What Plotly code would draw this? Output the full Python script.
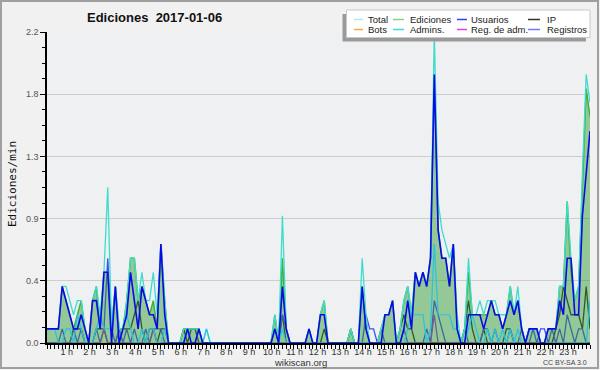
import plotly.graph_objects as go

# ---------------- data (edits per minute, 10-minute bins, 2017-01-06) ----------------
BIN_HOURS = [i / 6 for i in range(144)]  # start of each 10-minute bin, in hours

total = [
    0.1, 0.1, 0.1, 0.1, 0.4, 0.4, 0.3, 0.2, 0.3, 0.3, 0.1, 0.0,
    0.3, 0.4, 0.2, 0.5, 1.1, 0.1, 0.4, 0.1, 0.1, 0.3, 0.6, 0.6,
    0.3, 0.5, 0.3, 0.3, 0.5, 0.2, 0.7, 0.3, 0.0, 0.0, 0.0, 0.0,
    0.1, 0.1, 0.1, 0.1, 0.1, 0.0, 0.1, 0.0, 0.0, 0.0, 0.0, 0.0,
    0.0, 0.0, 0.0, 0.0, 0.0, 0.0, 0.0, 0.0, 0.0, 0.0, 0.0, 0.0,
    0.2, 0.0, 0.9, 0.1, 0.0, 0.0, 0.0, 0.0, 0.0, 0.1, 0.0, 0.0,
    0.2, 0.3, 0.0, 0.0, 0.0, 0.0, 0.0, 0.0, 0.1, 0.0, 0.0, 0.6,
    0.2, 0.0, 0.0, 0.0, 0.1, 0.2, 0.2, 0.3, 0.0, 0.1, 0.3, 0.4,
    0.2, 0.5, 0.4, 0.5, 0.4, 0.6, 2.2, 1.0, 0.8, 0.7, 0.6, 0.7,
    0.2, 0.0, 0.1, 0.6, 0.2, 0.2, 0.3, 0.2, 0.3, 0.3, 0.3, 0.2,
    0.2, 0.2, 0.4, 0.2, 0.4, 0.1, 0.0, 0.1, 0.1, 0.1, 0.0, 0.0,
    0.1, 0.1, 0.1, 0.4, 0.4, 1.0, 0.6, 0.3, 0.4, 1.2, 1.9, 1.7,
]
ediciones = [
    0.1, 0.1, 0.1, 0.1, 0.4, 0.3, 0.2, 0.1, 0.2, 0.3, 0.1, 0.0,
    0.3, 0.4, 0.1, 0.5, 0.5, 0.1, 0.4, 0.1, 0.1, 0.3, 0.6, 0.6,
    0.3, 0.4, 0.3, 0.2, 0.3, 0.1, 0.7, 0.3, 0.0, 0.0, 0.0, 0.0,
    0.1, 0.1, 0.1, 0.1, 0.1, 0.0, 0.0, 0.0, 0.0, 0.0, 0.0, 0.0,
    0.0, 0.0, 0.0, 0.0, 0.0, 0.0, 0.0, 0.0, 0.0, 0.0, 0.0, 0.0,
    0.2, 0.0, 0.6, 0.1, 0.0, 0.0, 0.0, 0.0, 0.0, 0.1, 0.0, 0.0,
    0.2, 0.3, 0.0, 0.0, 0.0, 0.0, 0.0, 0.0, 0.1, 0.0, 0.0, 0.4,
    0.1, 0.0, 0.0, 0.0, 0.1, 0.2, 0.2, 0.3, 0.0, 0.1, 0.3, 0.4,
    0.2, 0.5, 0.4, 0.5, 0.4, 0.6, 1.9, 0.8, 0.6, 0.6, 0.4, 0.7,
    0.1, 0.0, 0.1, 0.5, 0.2, 0.2, 0.2, 0.2, 0.2, 0.3, 0.2, 0.2,
    0.1, 0.2, 0.4, 0.2, 0.3, 0.1, 0.0, 0.1, 0.1, 0.1, 0.0, 0.0,
    0.1, 0.1, 0.1, 0.4, 0.4, 1.0, 0.5, 0.3, 0.4, 1.1, 1.8, 1.6,
]
usuarios = [
    0.1, 0.1, 0.1, 0.1, 0.4, 0.3, 0.2, 0.1, 0.1, 0.2, 0.1, 0.0,
    0.3, 0.3, 0.1, 0.5, 0.5, 0.0, 0.4, 0.0, 0.1, 0.2, 0.5, 0.3,
    0.1, 0.4, 0.3, 0.2, 0.2, 0.1, 0.7, 0.2, 0.0, 0.0, 0.0, 0.0,
    0.0, 0.1, 0.0, 0.0, 0.1, 0.0, 0.0, 0.0, 0.0, 0.0, 0.0, 0.0,
    0.0, 0.0, 0.0, 0.0, 0.0, 0.0, 0.0, 0.0, 0.0, 0.0, 0.0, 0.0,
    0.1, 0.0, 0.4, 0.1, 0.0, 0.0, 0.0, 0.0, 0.0, 0.1, 0.0, 0.0,
    0.2, 0.2, 0.0, 0.0, 0.0, 0.0, 0.0, 0.0, 0.0, 0.0, 0.0, 0.4,
    0.1, 0.0, 0.0, 0.0, 0.0, 0.2, 0.2, 0.3, 0.0, 0.0, 0.1, 0.3,
    0.1, 0.5, 0.4, 0.5, 0.4, 0.6, 1.9, 0.8, 0.6, 0.6, 0.4, 0.7,
    0.1, 0.0, 0.0, 0.2, 0.2, 0.2, 0.2, 0.1, 0.2, 0.3, 0.2, 0.2,
    0.1, 0.2, 0.3, 0.2, 0.3, 0.1, 0.0, 0.1, 0.1, 0.1, 0.0, 0.0,
    0.1, 0.1, 0.1, 0.3, 0.2, 0.6, 0.6, 0.2, 0.2, 0.9, 1.2, 1.5,
]
ip = [
    0.0, 0.0, 0.0, 0.0, 0.0, 0.0, 0.0, 0.1, 0.1, 0.1, 0.0, 0.0,
    0.0, 0.1, 0.1, 0.1, 0.0, 0.0, 0.0, 0.1, 0.1, 0.1, 0.1, 0.2,
    0.3, 0.1, 0.0, 0.1, 0.1, 0.0, 0.1, 0.1, 0.0, 0.0, 0.0, 0.0,
    0.1, 0.0, 0.1, 0.1, 0.0, 0.0, 0.0, 0.0, 0.0, 0.0, 0.0, 0.0,
    0.0, 0.0, 0.0, 0.0, 0.0, 0.0, 0.0, 0.0, 0.0, 0.0, 0.0, 0.0,
    0.1, 0.0, 0.2, 0.0, 0.0, 0.0, 0.0, 0.0, 0.0, 0.0, 0.0, 0.0,
    0.0, 0.1, 0.0, 0.0, 0.0, 0.0, 0.0, 0.0, 0.1, 0.0, 0.0, 0.0,
    0.0, 0.0, 0.0, 0.0, 0.0, 0.0, 0.0, 0.0, 0.0, 0.1, 0.2, 0.1,
    0.1, 0.0, 0.0, 0.0, 0.0, 0.0, 0.0, 0.0, 0.0, 0.0, 0.0, 0.0,
    0.0, 0.0, 0.1, 0.3, 0.1, 0.0, 0.0, 0.1, 0.0, 0.0, 0.0, 0.0,
    0.0, 0.1, 0.1, 0.0, 0.0, 0.0, 0.0, 0.0, 0.0, 0.0, 0.0, 0.0,
    0.0, 0.0, 0.1, 0.2, 0.4, 0.3, 0.2, 0.2, 0.2, 0.1, 0.4, 0.1,
]
bots = [0.0] * 144
admins = [
    0.1, 0.1, 0.1, 0.0, 0.0, 0.1, 0.1, 0.0, 0.2, 0.1, 0.0, 0.0,
    0.0, 0.1, 0.2, 0.1, 0.1, 0.1, 0.4, 0.0, 0.1, 0.2, 0.1, 0.0,
    0.0, 0.1, 0.0, 0.1, 0.1, 0.0, 0.0, 0.1, 0.0, 0.0, 0.0, 0.0,
    0.0, 0.1, 0.0, 0.0, 0.1, 0.0, 0.1, 0.0, 0.0, 0.0, 0.0, 0.0,
    0.0, 0.0, 0.0, 0.0, 0.0, 0.0, 0.0, 0.0, 0.0, 0.0, 0.0, 0.0,
    0.0, 0.0, 0.1, 0.0, 0.0, 0.0, 0.0, 0.0, 0.0, 0.0, 0.0, 0.0,
    0.0, 0.0, 0.0, 0.0, 0.0, 0.0, 0.0, 0.0, 0.0, 0.0, 0.0, 0.0,
    0.0, 0.0, 0.0, 0.0, 0.0, 0.0, 0.0, 0.0, 0.0, 0.0, 0.0, 0.1,
    0.2, 0.2, 0.2, 0.2, 0.0, 0.1, 0.7, 0.2, 0.2, 0.2, 0.2, 0.1,
    0.1, 0.0, 0.0, 0.1, 0.2, 0.1, 0.0, 0.0, 0.1, 0.0, 0.1, 0.0,
    0.1, 0.0, 0.1, 0.0, 0.1, 0.0, 0.0, 0.1, 0.1, 0.1, 0.0, 0.0,
    0.0, 0.0, 0.0, 0.0, 0.0, 0.0, 0.0, 0.0, 0.0, 0.0, 0.0, 0.3,
]
reg_adm = [
    0.0, 0.0, 0.0, 0.0, 0.0, 0.0, 0.0, 0.0, 0.0, 0.0, 0.0, 0.0,
    0.0, 0.0, 0.0, 0.1, 0.0, 0.0, 0.0, 0.0, 0.0, 0.0, 0.0, 0.0,
    0.0, 0.0, 0.0, 0.0, 0.1, 0.0, 0.0, 0.0, 0.0, 0.0, 0.0, 0.0,
    0.0, 0.0, 0.0, 0.0, 0.0, 0.0, 0.0, 0.0, 0.0, 0.0, 0.0, 0.0,
    0.0, 0.0, 0.0, 0.0, 0.0, 0.0, 0.0, 0.0, 0.0, 0.0, 0.0, 0.0,
    0.0, 0.0, 0.0, 0.0, 0.0, 0.0, 0.0, 0.0, 0.0, 0.0, 0.0, 0.0,
    0.0, 0.0, 0.0, 0.0, 0.0, 0.0, 0.0, 0.0, 0.0, 0.0, 0.0, 0.0,
    0.0, 0.0, 0.0, 0.0, 0.0, 0.0, 0.0, 0.0, 0.0, 0.0, 0.0, 0.0,
    0.0, 0.0, 0.0, 0.0, 0.0, 0.0, 0.2, 0.0, 0.0, 0.0, 0.0, 0.0,
    0.0, 0.0, 0.0, 0.0, 0.0, 0.0, 0.0, 0.0, 0.0, 0.0, 0.0, 0.0,
    0.0, 0.0, 0.0, 0.0, 0.0, 0.0, 0.0, 0.0, 0.0, 0.0, 0.0, 0.0,
    0.0, 0.0, 0.0, 0.0, 0.0, 0.0, 0.0, 0.0, 0.0, 0.0, 0.0, 0.0,
]
registros = [
    0.0, 0.0, 0.0, 0.0, 0.1, 0.0, 0.0, 0.1, 0.0, 0.1, 0.0, 0.0,
    0.0, 0.1, 0.0, 0.1, 0.6, 0.1, 0.0, 0.1, 0.0, 0.1, 0.0, 0.1,
    0.0, 0.0, 0.1, 0.0, 0.1, 0.1, 0.1, 0.0, 0.0, 0.0, 0.0, 0.0,
    0.0, 0.0, 0.0, 0.0, 0.0, 0.0, 0.0, 0.0, 0.0, 0.0, 0.0, 0.0,
    0.0, 0.0, 0.0, 0.0, 0.0, 0.0, 0.0, 0.0, 0.0, 0.0, 0.0, 0.0,
    0.0, 0.0, 0.2, 0.1, 0.0, 0.0, 0.0, 0.0, 0.0, 0.0, 0.0, 0.0,
    0.0, 0.0, 0.0, 0.0, 0.0, 0.0, 0.0, 0.0, 0.0, 0.0, 0.0, 0.0,
    0.2, 0.1, 0.1, 0.0, 0.1, 0.0, 0.0, 0.0, 0.0, 0.0, 0.1, 0.0,
    0.0, 0.0, 0.0, 0.0, 0.1, 0.0, 0.3, 0.2, 0.1, 0.0, 0.0, 0.0,
    0.0, 0.0, 0.1, 0.0, 0.0, 0.0, 0.0, 0.1, 0.1, 0.0, 0.1, 0.0,
    0.0, 0.0, 0.1, 0.0, 0.0, 0.1, 0.0, 0.0, 0.1, 0.0, 0.1, 0.1,
    0.0, 0.1, 0.0, 0.1, 0.0, 0.2, 0.1, 0.0, 0.1, 0.1, 0.0, 0.0,
]

hour_ticks = [1, 2, 3, 4, 5, 6, 7, 8, 9, 10, 11, 12, 13, 14, 15, 16, 17, 18, 19, 20, 21, 22, 23]
hour_labels = ["1 h", "2 h", "3 h", "4 h", "5 h", "6 h", "7 h", "8 h", "9 h", "10 h", "11 h", "12 h",
               "13 h", "14 h", "15 h", "16 h", "17 h", "18 h", "19 h", "20 h", "21 h", "22 h", "23 h"]
y_ticks = [0, 0.44, 0.88, 1.32, 1.76, 2.2]
y_labels = ["0.0", "0.4", "0.9", "1.3", "1.8", "2.2"]

legend_names = ["Total", "Ediciones", "Usuarios", "IP", "Bots", "Admins.", "Reg. de adm.", "Registros"]
legend_colors = ["#a6ecec", "#84d484", "#3a3aff", "#333333", "#ffa53c", "#3cd6e8", "#e040e0", "#7474ff"]

# ---------------- figure ----------------
W, H = 600, 370
L, R, T, B = 47, 10, 32, 27
PW, PH = W - L - R, H - T - B


def px(x):
    return (x - L) / PW


def py(y):
    return (H - B - y) / PH


fig = go.Figure()


def line_trace(y, name, color, width):
    return go.Scatter(x=BIN_HOURS, y=y, name=name, mode="lines",
                      line=dict(color=color, width=width), showlegend=False,
                      hoverinfo="skip")


fig.add_trace(line_trace(bots, "Bots", "#ffa53c", 1.2))
fig.add_trace(line_trace(ip, "IP", "#2e2e2e", 1.3))
fig.add_trace(line_trace(registros, "Registros", "#4848ff", 1.3))
fig.add_trace(line_trace(reg_adm, "Reg. de adm.", "#b030e0", 1.3))
fig.add_trace(go.Scatter(x=BIN_HOURS, y=ediciones, name="Ediciones", mode="lines",
                         line=dict(color="#3db23d", width=1.5), fill="tozeroy",
                         fillcolor="rgba(40,150,40,0.45)", showlegend=False,
                         hoverinfo="skip"))
fig.add_trace(line_trace(total, "Total", "#3fdccc", 1.3))
fig.add_trace(line_trace(admins, "Admins.", "#22c4e4", 1.2))
fig.add_trace(line_trace(usuarios, "Usuarios", "#0a0ae6", 1.6))

shapes = []
annotations = []

# frame around the picture
shapes.append(dict(type="rect", xref="paper", yref="paper",
                   x0=px(1), x1=px(598), y0=py(1), y1=py(368),
                   line=dict(color="#a0a0a0", width=2), fillcolor="rgba(0,0,0,0)", layer="above"))

# legend box with shadow
shapes.append(dict(type="rect", xref="paper", yref="paper",
                   x0=px(342.5), x1=px(586), y0=py(14), y1=py(41.5),
                   line=dict(width=0), fillcolor="#9a9a9a", layer="above"))
shapes.append(dict(type="rect", xref="paper", yref="paper",
                   x0=px(346.5), x1=px(590), y0=py(10), y1=py(37.5),
                   line=dict(color="#c8c8c8", width=1), fillcolor="#ffffff", layer="above"))

col_line = [(354, 363), (393, 404), (457, 467), (528, 540)]
col_text = [366, 408, 469, 545]
row_y = [19.5, 29.5]
for k, (nm, col) in enumerate(zip(legend_names, legend_colors)):
    r, c = divmod(k, 4)
    shapes.append(dict(type="line", xref="paper", yref="paper",
                       x0=px(col_line[c][0]), x1=px(col_line[c][1]),
                       y0=py(row_y[r]), y1=py(row_y[r]),
                       line=dict(color=col, width=1.5), layer="above"))
    annotations.append(dict(text=nm, xref="paper", yref="paper",
                            x=px(col_text[c]), y=py(row_y[r]),
                            xanchor="left", yanchor="middle", showarrow=False,
                            font=dict(family="Liberation Sans", size=9.5, color="#1a1a1a")))

# title
annotations.append(dict(text="<b>Ediciones\u00a0 2017-01-06</b>", xref="paper", yref="paper",
                        x=px(154), y=py(17), xanchor="center", yanchor="middle",
                        showarrow=False,
                        font=dict(family="Liberation Sans", size=13, color="#111111")))
# y-axis title
annotations.append(dict(text="Ediciones/min", xref="paper", yref="paper",
                        x=px(12), y=py(184), xanchor="center", yanchor="middle",
                        textangle=-90, showarrow=False,
                        font=dict(family="DejaVu Sans Mono", size=11, color="#111111")))
# footer
annotations.append(dict(text="wikiscan.org", xref="paper", yref="paper",
                        x=px(300), y=py(362), xanchor="center", yanchor="middle",
                        showarrow=False,
                        font=dict(family="Liberation Sans", size=9.5, color="#333333")))
annotations.append(dict(text="CC BY-SA 3.0", xref="paper", yref="paper",
                        x=px(589), y=py(362.5), xanchor="right", yanchor="middle",
                        showarrow=False,
                        font=dict(family="Liberation Sans", size=7, color="#444444")))

fig.update_layout(
    width=W, height=H,
    margin=dict(l=L, r=R, t=T, b=B, pad=0),
    paper_bgcolor="#f1f1f1",
    plot_bgcolor="#eef0f2",
    showlegend=False,
    shapes=shapes,
    annotations=annotations,
    xaxis=dict(
        range=[0, 143 / 6],
        tickmode="array", tickvals=hour_ticks, ticktext=hour_labels,
        ticks="outside", ticklen=4, tickwidth=1, tickcolor="#000000",
        showline=True, linecolor="#000000", linewidth=1.5,
        showgrid=False, zeroline=False,
        tickfont=dict(family="Liberation Sans", size=9, color="#333333"),
        ticklabelstandoff=-5, ticklabelshift=-3,
        minor=dict(dtick=1 / 6, tick0=0, ticks="outside", ticklen=4,
                   tickcolor="#000000", tickwidth=1, showgrid=False),
        fixedrange=True,
    ),
    yaxis=dict(
        range=[0, 2.2],
        tickmode="array", tickvals=y_ticks, ticktext=y_labels,
        ticks="outside", ticklen=5, tickwidth=1, tickcolor="#000000",
        showline=True, linecolor="#000000", linewidth=1.5,
        showgrid=True, gridcolor="#cdcdcd", gridwidth=1, zeroline=False,
        tickfont=dict(family="Liberation Sans", size=9, color="#555555"),
        minor=dict(dtick=0.11, tick0=0, ticks="outside", ticklen=3,
                   tickcolor="#000000", tickwidth=1, showgrid=False),
        fixedrange=True,
    ),
)

fig.write_html("out.html")
